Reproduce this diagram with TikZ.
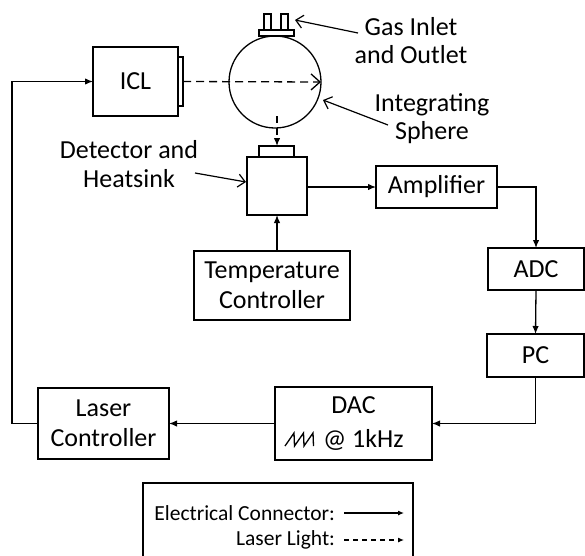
\documentclass[tikz,border=0pt]{standalone}
\usepackage{fontspec}
\setmainfont{Carlito}
\usetikzlibrary{arrows.meta,calc}
\begin{document}
\begin{tikzpicture}[x=1pt,y=-1pt,
  every node/.style={font=\fontsize{26}{30}\selectfont, inner sep=0pt, outer sep=0pt},
  box/.style={draw, line width=1.3pt, align=center},
  elec/.style={line width=1.3pt, -{Latex[length=8pt,width=6.5pt]}},
  pointer/.style={line width=1.2pt, -{Straight Barb[length=7pt,width=13pt]}},
  laser/.style={line width=1.3pt, dash pattern=on 8pt off 5pt},
  legtext/.style={font=\fontsize{21.5}{24}\selectfont, anchor=east}
]
\useasboundingbox (0,0) rectangle (585,555);

% boxes
\node[box, minimum width=85pt, minimum height=69pt] (icl) at (135.5,81.5) {ICL};
\node[box, minimum width=5pt, minimum height=49pt] (tab) at (180.5,81.5) {};
\node[draw, line width=1.3pt, circle, minimum size=92pt] (sph) at (275,82) {};
\node[box, minimum width=35pt, minimum height=6pt] (fit) at (276.5,33) {};
\node[box, minimum width=7pt, minimum height=16pt] (tubeA) at (267.5,22) {};
\node[box, minimum width=7pt, minimum height=16pt] (tubeB) at (284.5,22) {};
\node[box, minimum width=35pt, minimum height=11pt] (cap) at (276.5,151.5) {};
\node[box, minimum width=60pt, minimum height=58pt] (det) at (277,186) {};
\node[box, minimum width=121pt, minimum height=42pt] (amp) at (436.5,187) {Amplifier};
\node[box, minimum width=96pt, minimum height=42pt] (adc) at (536,269) {ADC};
\node[box, minimum width=97pt, minimum height=43pt] (pc) at (535.5,355.5) {PC};
\node[box, minimum width=157pt, minimum height=73pt] (dac) at (353.5,423.5) {};
\node (dactxt) at (353.5,405) {DAC};
\node[anchor=west] (freq) at (323,440) {@ 1kHz};
\node[box, minimum width=131pt, minimum height=71pt] (lc) at (103.5,423.5) {Laser\\Controller};
\node[box, minimum width=156pt, minimum height=69pt] (tc) at (272,285.5) {Temperature\\Controller};

% sawtooth symbol
\draw[line width=1.3pt, line join=miter] (285,446) -- (294,433) -- (294.5,446) -- (303.5,433) -- (304,446) -- (313,433) -- (313.5,446);

% labels
\node (gas) at (411,43) {\begin{tabular}{@{}c@{}}Gas Inlet\\[-2pt]and Outlet\end{tabular}};
\node (isph) at (432,119) {\begin{tabular}{@{}c@{}}Integrating\\[-2pt]Sphere\end{tabular}};
\node (detl) at (129,167) {\begin{tabular}{@{}c@{}}Detector and\\[-1pt]Heatsink\end{tabular}};

\coordinate (gasfrom) at (358,33);
\coordinate (gasto) at (295,20);
\coordinate (isfrom) at (388,125);
\coordinate (isto) at (323,100);
\coordinate (detfrom) at (195,173);
\coordinate (detto) at (246,182);
\draw[pointer] (gasfrom) -- (gasto);
\draw[pointer] (isfrom) -- (isto);
\draw[pointer] (detfrom) -- (detto);

% laser light
\draw[laser, -{Straight Barb[length=9pt,width=16pt]}] (tab.east) -- (sph.east);
\coordinate (sphout) at (277,116);
\draw[laser, dash pattern=on 7pt off 5pt, -{Latex[length=8pt,width=6.5pt]}] (sphout) -- (sphout |- cap.north);

% electrical
\draw[elec] (det.east |- amp.west) -- (amp.west);
\draw[elec] (amp.east) -| (adc.north);
\draw[elec] (adc.south) -- (pc.south |- pc.north);
\draw[elec] (pc.south) |- (dac.east);
\draw[elec] (dac.west) -- (lc.east);
\coordinate (loop) at (12,423.5);
\draw[elec] (lc.west) -- (loop) |- (icl.west);
\draw[elec] (det.south |- tc.north) -- (det.south);

% legend
\draw[line width=1.3pt] (143,560) -- (143,483) -- (413,483) -- (413,560);
\node[legtext] (le) at (335,513) {Electrical Connector:};
\node[legtext] (ll) at (335,540) {Laser Light:};
\coordinate (le1) at (344,513);
\coordinate (le2) at (404,513);
\coordinate (ll1) at (344,540);
\coordinate (ll2) at (404,540);
\draw[line width=1.1pt, -{Latex[length=6pt,width=5pt]}] (le1) -- (le2);
\draw[line width=1.1pt, dash pattern=on 5pt off 4pt, -{Latex[length=6pt,width=5pt]}] (ll1) -- (ll2);
\end{tikzpicture}
\end{document}
